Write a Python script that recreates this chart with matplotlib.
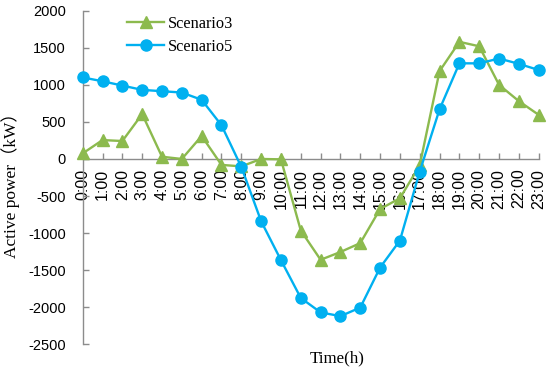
import matplotlib
matplotlib.use("Agg")
import matplotlib.pyplot as plt
from matplotlib.lines import Line2D

hours = [f"{h}:00" for h in range(24)]
scenario3 = [75, 255, 242, 605, 30, 0, 310, -80, -100, 0, -5, -965, -1360, -1255, -1135,
             -675, -530, -85, 1185, 1580, 1520, 1000, 780, 595]
scenario5 = [1100, 1048, 990, 932, 914, 896, 798, 455, -107, -840, -1365, -1875, -2070,
             -2120, -2005, -1465, -1100, -170, 670, 1290, 1290, 1355, 1283, 1200]
yticks = [-2500, -2000, -1500, -1000, -500, 0, 500, 1000, 1500, 2000]

green = "#8CBA4E"
blue = "#00B0F0"
serif = ["Liberation Serif", "Noto Sans CJK SC", "DejaVu Sans"]

fig = plt.figure(figsize=(5.5, 3.71), dpi=100)
ax = fig.add_axes([82.7 / 550, 1 - 344.3 / 371, (538.7 - 82.7) / 550, (344.3 - 10.7) / 371])

for s in ["top", "right"]:
    ax.spines[s].set_visible(False)
ax.spines["bottom"].set_position(("data", 0))
for s in ["left", "bottom"]:
    ax.spines[s].set_color("#8C8C8C")
    ax.spines[s].set_linewidth(1.0)

x = list(range(len(hours)))
ax.plot(x, scenario3, color=green, lw=1.7, marker="^", ms=8.5, mec=green, mfc=green,
        label="Scenario3", zorder=3, clip_on=False)
ax.plot(x, scenario5, color=blue, lw=1.7, marker="o", ms=8, mec=blue, mfc=blue,
        label="Scenario5", zorder=3, clip_on=False)

ax.set_xlim(0, 23)
ax.set_ylim(-2500, 2000)
ax.set_yticks(yticks)
ax.set_yticklabels([str(v) for v in yticks], fontfamily="Liberation Sans", fontsize=10.5)
ax.set_xticks(x)
ax.set_xticklabels(hours, rotation=90, fontfamily="Liberation Sans", fontsize=11.5,
                   va="top", ha="center")
ax.tick_params(axis="both", direction="in", length=4, color="#8C8C8C", width=1.0)
ax.tick_params(axis="x", pad=7)
ax.tick_params(axis="y", pad=12)

ax.set_ylabel("Active power（kW）", family=serif, fontsize=12.5)
ax.yaxis.set_label_coords((20 - 82.7) / 456, (344.3 - 181.5) / 333.6)
fig.text(337 / 550, 1 - 358 / 371, "Time(h)", family=serif, fontsize=12.2,
         ha="center", va="center")

handles = [Line2D([], [], color=green, lw=1.7, marker="^", ms=8.5),
           Line2D([], [], color=blue, lw=1.7, marker="o", ms=8)]
leg = fig.legend(handles, ["Scenario3", "Scenario5"], loc="upper left",
                 bbox_to_anchor=(112 / 550, 1 - 1 / 371), frameon=False,
                 prop={"family": "Liberation Serif", "size": 11.8},
                 handlelength=2.3, handletextpad=0.2, labelspacing=0.45)

fig.savefig("out.png", dpi=100)
